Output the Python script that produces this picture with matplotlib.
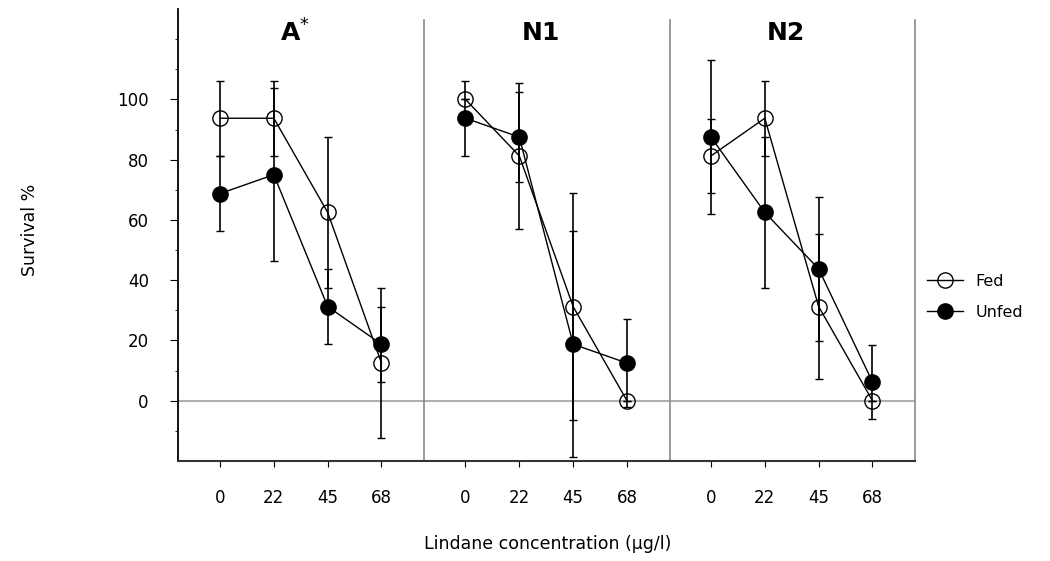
import matplotlib
matplotlib.use('Agg')
from matplotlib import pyplot as plt

# concentrations and panels
conc_labels = ['0', '22', '45', '68']
panel_names = ['A$^{*}$', 'N1', 'N2']

# survival % (n=16 -> steps of 6.25)
fed_A = [93.75, 93.75, 62.5, 12.5]
fed_A_err = [12.5, 12.5, 25, 25]
unfed_A = [68.75, 75, 31.25, 18.75]
unfed_A_err = [12.5, 28.7, 12.5, 12.5]

fed_N1 = [100, 81.25, 31.25, 0]
fed_N1_err = [0, 24.2, 37.7, 0]
unfed_N1 = [93.75, 87.5, 18.75, 12.5]
unfed_N1_err = [12.5, 14.8, 37.5, 14.7]

fed_N2 = [81.25, 93.75, 31.25, 0]
fed_N2_err = [12.4, 12.5, 24, 0]
unfed_N2 = [87.5, 62.5, 43.75, 6.25]
unfed_N2_err = [25.6, 25, 24, 12.3]

fed = [fed_A, fed_N1, fed_N2]
fed_err = [fed_A_err, fed_N1_err, fed_N2_err]
unfed = [unfed_A, unfed_N1, unfed_N2]
unfed_err = [unfed_A_err, unfed_N1_err, unfed_N2_err]

gap = 4.56  # panel width in x units

fig = plt.figure(figsize=(10.5, 5.61), dpi=100)
ax = fig.add_axes([178 / 1050, 100 / 561, 737 / 1050, 452 / 561])

ax.axhline(0, color='#b0b0b0', lw=1.5, zorder=1)

xticks = []
xlabels = []
for i in range(3):
    x = [i * gap + k for k in range(4)]
    xticks += x
    xlabels += conc_labels
    # separators / right border
    ax.plot([(i + 1) * gap - 0.77] * 2, [-20, 126.5], color='#8a8a8a',
            lw=1.2, clip_on=False, zorder=1)

    ax.errorbar(x, fed[i], yerr=fed_err[i], fmt='none', ecolor='black',
                elinewidth=1.2, capsize=2.7, capthick=1, zorder=2)
    ax.errorbar(x, unfed[i], yerr=unfed_err[i], fmt='none', ecolor='black',
                elinewidth=1.2, capsize=2.7, capthick=1, zorder=2)
    l_fed, = ax.plot(x, fed[i], '-', color='black', lw=1, marker='o',
                     mfc='none', mec='black', ms=11, mew=1, zorder=3,
                     label='Fed')
    l_unfed, = ax.plot(x, unfed[i], '-', color='black', lw=1, marker='o',
                       mfc='black', mec='black', ms=11, zorder=3,
                       label='Unfed')

    ax.text(i * gap + 1.4, 122, panel_names[i], ha='center', va='center',
            fontsize=18, fontweight='bold')

ax.set_xlim(-0.78, 3 * gap - 0.77)
ax.set_ylim(-20, 130)

ax.set_xticks(xticks)
ax.set_xticklabels(xlabels)
ax.set_yticks([0, 20, 40, 60, 80, 100])
ax.set_yticks([-10, 10, 30, 50, 70, 90, 110, 120], minor=True)
ax.tick_params(axis='x', direction='out', length=4, pad=16, labelsize=12)
ax.tick_params(axis='y', which='major', direction='out', length=6, pad=15,
               labelsize=12)
ax.tick_params(axis='y', which='minor', direction='out', length=2.5)

for s in ['top', 'right']:
    ax.spines[s].set_visible(False)
ax.spines['left'].set_linewidth(1.3)
ax.spines['bottom'].set_linewidth(1.5)
ax.spines['bottom'].set_color('#333333')

fig.text(30 / 1050, 1 - 230 / 561, 'Survival %', rotation=90,
         ha='center', va='center', fontsize=12.5)
fig.text(548 / 1050, 1 - 544 / 561, 'Lindane concentration (µg/l)',
         ha='center', va='center', fontsize=12.5)

fig.legend([l_fed, l_unfed], ['Fed', 'Unfed'], loc='center left',
           bbox_to_anchor=(913 / 1050, 1 - 297 / 561), frameon=False,
           fontsize=11.5, handlelength=2.2, labelspacing=1.0)

fig.savefig('out.png', dpi=100)
